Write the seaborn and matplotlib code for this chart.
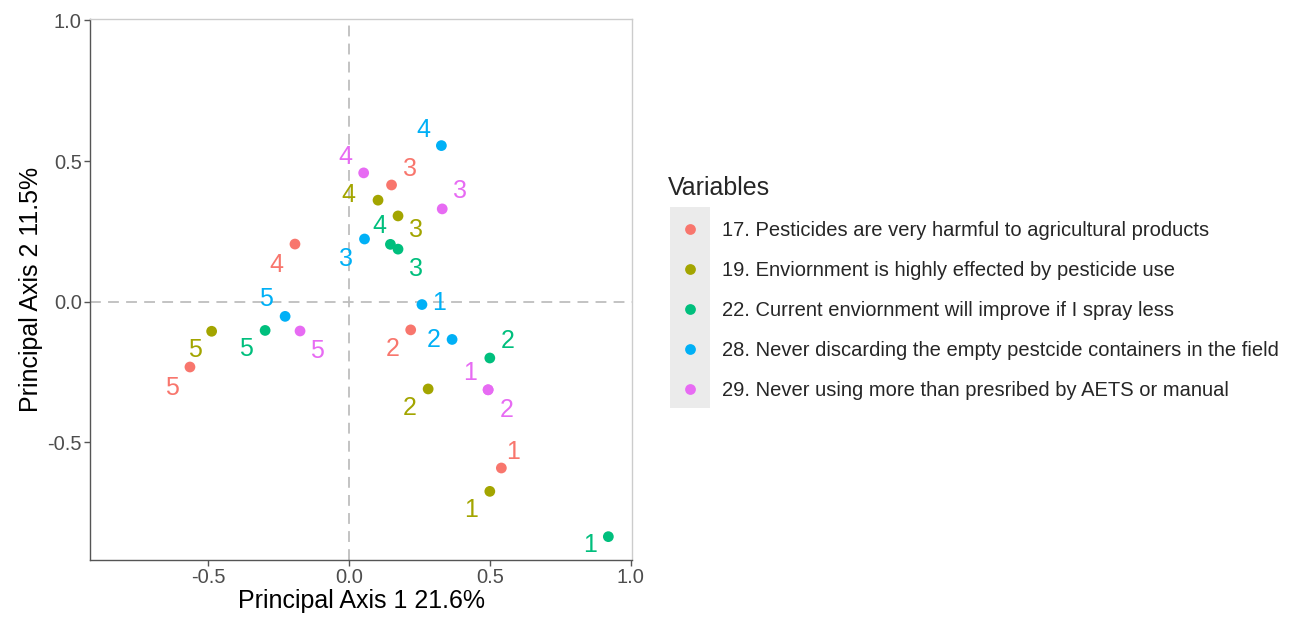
# Import Libraries
import numpy as np
import pandas as pd
import matplotlib.pyplot as plt
import seaborn as sns
from matplotlib.patches import Rectangle

# Data
variables = [
    "17. Pesticides are very harmful to agricultural products",
    "19. Enviornment is highly effected by pesticide use",
    "22. Current enviornment will improve if I spray less",
    "28. Never discarding the empty pestcide containers in the field",
    "29. Never using more than presribed by AETS or manual",
]
levels = ["1", "2", "3", "4", "5"]

axis1 = {
    variables[0]: [0.541, 0.219, 0.151, -0.192, -0.565],
    variables[1]: [0.500, 0.281, 0.174, 0.103, -0.488],
    variables[2]: [0.921, 0.500, 0.174, 0.147, -0.298],
    variables[3]: [0.259, 0.366, 0.055, 0.328, -0.227],
    variables[4]: [0.494, 0.494, 0.331, 0.052, -0.174],
}
axis2 = {
    variables[0]: [-0.591, -0.100, 0.415, 0.205, -0.232],
    variables[1]: [-0.674, -0.310, 0.305, 0.361, -0.105],
    variables[2]: [-0.835, -0.200, 0.187, 0.204, -0.102],
    variables[3]: [-0.010, -0.134, 0.223, 0.555, -0.052],
    variables[4]: [-0.313, -0.313, 0.330, 0.458, -0.104],
}

# label nudges (repel offsets) for the level numbers
label_dx = {
    variables[0]: [0.043, -0.065, 0.064, -0.067, -0.063],
    variables[1]: [-0.067, -0.066, 0.064, -0.106, -0.059],
    variables[2]: [-0.066, 0.064, 0.064, -0.039, -0.068],
    variables[3]: [0.061, -0.064, -0.065, -0.065, -0.067],
    variables[4]: [-0.064, 0.067, 0.064, -0.065, 0.061],
}
label_dy = {
    variables[0]: [0.058, -0.069, 0.057, -0.075, -0.074],
    variables[1]: [-0.067, -0.066, -0.050, 0.017, -0.067],
    variables[2]: [-0.030, 0.061, -0.071, 0.065, -0.067],
    variables[3]: [0.005, -0.002, -0.072, 0.057, 0.062],
    variables[4]: [0.061, -0.072, 0.064, 0.058, -0.070],
}

rows = []
for v in variables:
    for i, lev in enumerate(levels):
        rows.append({"Variables": v, "level": lev,
                     "x": axis1[v][i], "y": axis2[v][i],
                     "lx": axis1[v][i] + label_dx[v][i],
                     "ly": axis2[v][i] + label_dy[v][i]})
df = pd.DataFrame(rows)

palette = ["#F8766D", "#A3A500", "#00BF7D", "#00B0F6", "#E76BF3"]
colors = dict(zip(variables, palette))

sns.set_theme(style="white")
plt.rcParams['font.family'] = ['Liberation Sans', 'DejaVu Sans']

fig = plt.figure(figsize=(12.96, 6.19), dpi=100)
ax = fig.add_axes([90 / 1296, 1 - 560 / 619, 542 / 1296, 541 / 619])

ax.axhline(0, color="#BEBEBE", lw=1.3, ls=(0, (6, 4)), zorder=0)
ax.axvline(0, color="#BEBEBE", lw=1.3, ls=(0, (6, 4)), zorder=0)

sns.scatterplot(data=df, x="x", y="y", hue="Variables", palette=colors,
                s=60, edgecolor="none", ax=ax)

for _, r in df.iterrows():
    ax.text(r["lx"], r["ly"], r["level"], color=colors[r["Variables"]],
            fontsize=18, ha="center", va="center")

ax.set_xlim(-0.92, 1.005)
ax.set_ylim(-0.918, 1.005)
ax.set_xticks([-0.5, 0.0, 0.5, 1.0])
ax.set_yticks([-0.5, 0.0, 0.5, 1.0])
ax.set_xticklabels(["-0.5", "0.0", "0.5", "1.0"])
ax.set_yticklabels(["-0.5", "0.0", "0.5", "1.0"])
ax.tick_params(axis="both", which="both", direction="out", length=4, width=1,
               color="#555555", labelsize=14.5, labelcolor="#4D4D4D", pad=2,
               bottom=True, left=True)
ax.set_xlabel("Principal Axis 1 21.6%", fontsize=18, color="black", labelpad=1)
ax.set_ylabel("Principal Axis 2 11.5%", fontsize=18, color="black", labelpad=3)

for side in ["left", "bottom"]:
    ax.spines[side].set_color("#555555")
    ax.spines[side].set_linewidth(1)
for side in ["top", "right"]:
    ax.spines[side].set_color("#CCCCCC")
    ax.spines[side].set_linewidth(1)

# legend with ggplot-like grey key background
sns.move_legend(ax, "upper left", bbox_to_anchor=(660 / 1296, 1 - 168 / 619),
                bbox_transform=fig.transFigure, frameon=False,
                title="Variables", fontsize=14.5, title_fontsize=18,
                labelspacing=1.04, handlelength=2.2, handletextpad=0.5,
                borderaxespad=0, alignment="left", markerscale=1.0)
fig.patches.append(Rectangle((670 / 1296, 1 - 408 / 619), 40 / 1296, 201 / 619,
                             transform=fig.transFigure, facecolor="#EBEBEB",
                             edgecolor="none", zorder=-1))

plt.savefig("out.png", dpi=100)
